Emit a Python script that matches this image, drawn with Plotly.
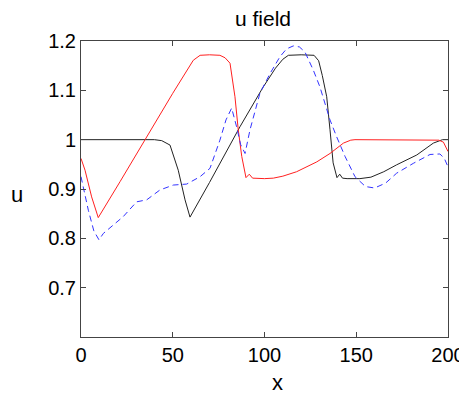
import plotly.graph_objects as go

# black solid curve
black_x = [0, 40, 44, 48.5, 53, 56.7, 59.4, 70, 86.6, 99, 106, 110, 113, 120, 127, 129.5, 131.5, 133.9, 135.7, 137.4, 139.5, 141, 142.5, 145, 152, 158, 165, 172, 183, 192, 197, 200]
black_y = [1.0, 1.0, 0.998, 0.989, 0.938, 0.878, 0.843, 0.913, 1.026, 1.105, 1.145, 1.163, 1.171, 1.172, 1.171, 1.16, 1.13, 1.087, 1.02, 0.953, 0.923, 0.93, 0.922, 0.921, 0.921, 0.924, 0.935, 0.949, 0.969, 0.993, 1.0, 1.0]

# red solid curve
red_x = [0, 2.2, 5.8, 9.4, 21.3, 34, 50, 61.2, 64.9, 70, 75.7, 78.5, 81.2, 83.9, 85.7, 87.6, 89.9, 91.7, 93.5, 100, 104.8, 110, 117.5, 128.5, 135.7, 143, 147, 149.3, 160, 180, 192, 195, 197.5, 200]
red_y = [0.962, 0.938, 0.884, 0.842, 0.915, 0.995, 1.094, 1.161, 1.171, 1.172, 1.171, 1.166, 1.155, 1.087, 1.02, 0.966, 0.923, 0.93, 0.922, 0.921, 0.922, 0.926, 0.935, 0.955, 0.972, 0.993, 0.999, 1.0, 1.0, 1.0, 1.0, 0.999, 0.995, 0.976]

# blue dashed curve
blue_x = [0, 4, 7, 9.8, 12.2, 23, 30.3, 35.8, 43, 50.3, 57.6, 64.9, 70.3, 75.7, 79, 82.1, 84.8, 87, 89.4, 92.1, 97.5, 103, 108.4, 112, 115.7, 119, 122, 126.6, 130.2, 135.7, 139.3, 143.9, 149.3, 155, 160, 166, 172, 181.1, 190.2, 195.6, 198, 200]
blue_y = [0.925, 0.857, 0.815, 0.797, 0.81, 0.844, 0.874, 0.878, 0.898, 0.908, 0.91, 0.925, 0.942, 0.999, 1.04, 1.064, 1.026, 0.99, 0.972, 1.02, 1.094, 1.134, 1.168, 1.184, 1.19, 1.188, 1.178, 1.141, 1.107, 1.04, 1.006, 0.966, 0.925, 0.905, 0.902, 0.912, 0.932, 0.952, 0.97, 0.971, 0.962, 0.945]

x_ticks = [0, 50, 100, 150, 200]
y_ticks = [0.7, 0.8, 0.9, 1.0, 1.1, 1.2]
y_ticktext = ["0.7", "0.8", "0.9", "1", "1.1", "1.2"]

FONT = "Liberation Sans, Arial, sans-serif"
OFF = 8  # default page body margin
W, H = 467 - OFF, 397 - OFF
L, R, T, B = 81 - OFF, 19, 41 - OFF, 60
pw, ph = W - L - R, H - T - B


def px_to_paper(px, py):
    # px, py are window pixel coordinates
    return (px - OFF - L) / pw, (H - B - (py - OFF)) / ph


fig = go.Figure()
fig.add_trace(go.Scatter(x=black_x, y=black_y, mode="lines",
                         line=dict(color="#222222", width=1)))
fig.add_trace(go.Scatter(x=red_x, y=red_y, mode="lines",
                         line=dict(color="#ff2020", width=1)))
fig.add_trace(go.Scatter(x=blue_x, y=blue_y, mode="lines",
                         line=dict(color="#3333ff", width=1, dash="6px,4px")))

axis_common = dict(showline=True, linecolor="#444444", linewidth=1, mirror="ticks",
                   ticks="inside", ticklen=5, tickcolor="#444444", showgrid=False,
                   zeroline=False, automargin=False,
                   tickfont=dict(family=FONT, size=20, color="black"))

anns = []
for text, px, py, size in [("u field", 263, 18, 21), ("x", 277.5, 382, 22), ("u", 17, 194, 22)]:
    ax, ay = px_to_paper(px, py)
    anns.append(dict(text=text, x=ax, y=ay, xref="paper", yref="paper",
                     xanchor="center", yanchor="middle", showarrow=False,
                     font=dict(family=FONT, size=size, color="black")))

fig.update_layout(
    width=W, height=H,
    margin=dict(l=L, r=R, t=T, b=B),
    paper_bgcolor="white", plot_bgcolor="white",
    showlegend=False,
    xaxis=dict(range=[0, 200], tickvals=x_ticks, **axis_common),
    yaxis=dict(range=[0.6, 1.2], tickvals=y_ticks, ticktext=y_ticktext, **axis_common),
    annotations=anns,
)

fig.write_html("out.html")
